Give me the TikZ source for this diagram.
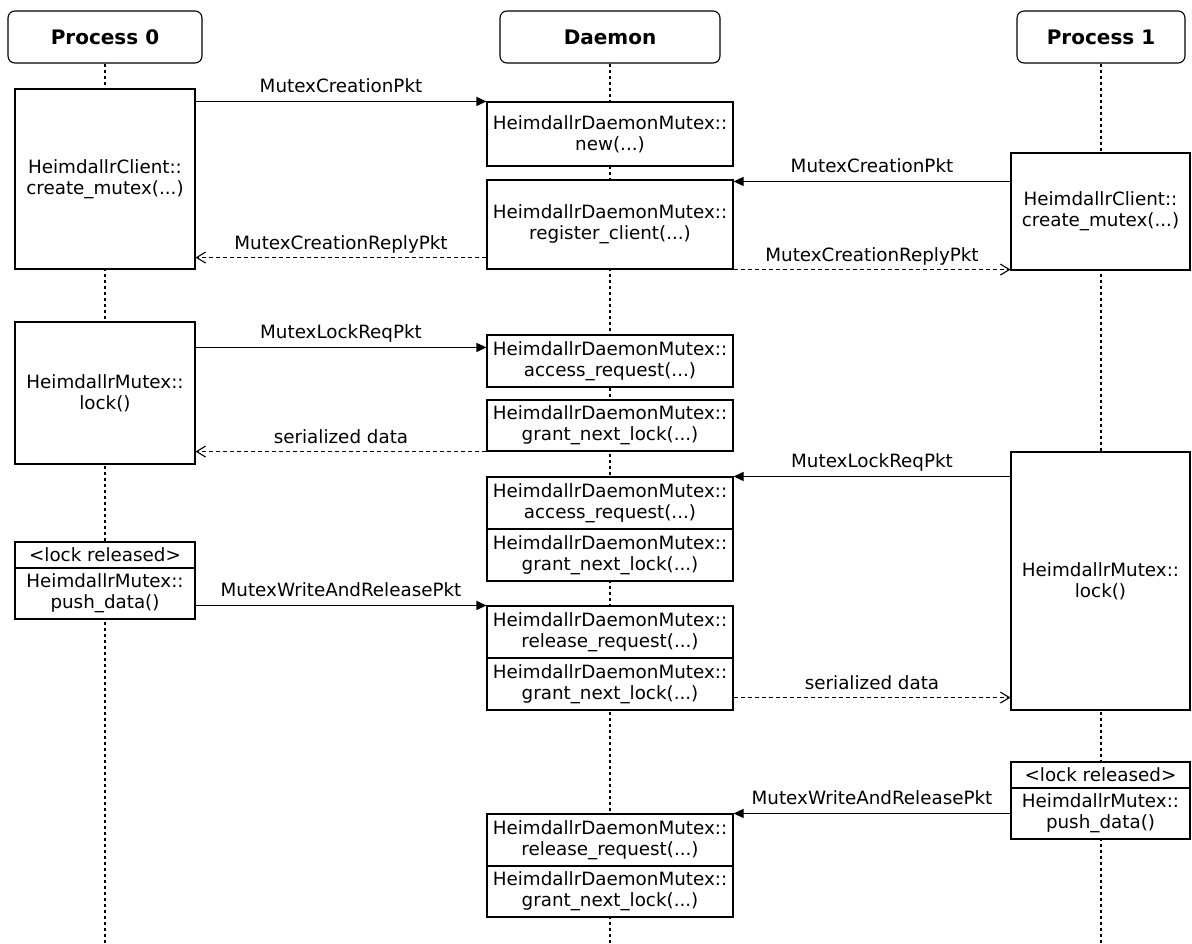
\documentclass[tikz,border=0pt]{standalone}
\usepackage{fontspec}
\setmainfont{DejaVu Sans}
\usetikzlibrary{arrows.meta,backgrounds,calc}
\begin{document}
\begin{tikzpicture}[x=1pt,y=-1pt,
  every node/.style={font=\fontsize{18.3}{21}\selectfont, align=center},
  box/.style={draw, line width=1.1pt, fill=white, inner sep=0pt},
  head/.style={box, rounded corners=7pt, font=\fontsize{20}{24}\selectfont\bfseries},
  life/.style={line width=1.1pt, dash pattern=on 3pt off 3pt},
  msg/.style={line width=1.1pt, -{Triangle[length=10pt,width=9pt]}},
  rep/.style={line width=1.1pt, dash pattern=on 4pt off 3pt, -{Straight Barb[length=9pt,width=11pt]}},
  lbl/.style={midway, above, inner sep=4pt, text depth=4pt}
]
\useasboundingbox (0,0) rectangle (1192,943);

% headers
\node[head, minimum width=194pt, minimum height=52pt] (h0) at (105,37) {Process 0};
\node[head, minimum width=220pt, minimum height=52pt] (h1) at (610,37) {Daemon};
\node[head, minimum width=168pt, minimum height=52pt] (h2) at (1101,37) {Process 1};
\coordinate (e0) at (105,943);
\coordinate (e1) at (610,943);
\coordinate (e2) at (1101,943);

% Process 0 boxes
\node[box, minimum width=180pt, minimum height=180pt] (c0) at (105,179) {HeimdallrClient::\\create\_mutex(...)};
\node[box, minimum width=180pt, minimum height=142pt] (l0) at (105,393) {HeimdallrMutex::\\lock()};
\node[box, minimum width=180pt, minimum height=26pt] (rel0) at (105,555) {<lock released>};
\node[box, minimum width=180pt, minimum height=51pt] (push0) at (105,593.5) {HeimdallrMutex::\\push\_data()};

% Daemon boxes
\node[box, minimum width=246pt, minimum height=64pt] (dnew) at (610,134) {HeimdallrDaemonMutex::\\new(...)};
\node[box, minimum width=246pt, minimum height=89pt] (dreg) at (610,224.5) {HeimdallrDaemonMutex::\\register\_client(...)};
\node[box, minimum width=246pt, minimum height=52pt] (dacc1) at (610,361) {HeimdallrDaemonMutex::\\access\_request(...)};
\node[box, minimum width=246pt, minimum height=51pt] (dgr1) at (610,425.5) {HeimdallrDaemonMutex::\\grant\_next\_lock(...)};
\node[box, minimum width=246pt, minimum height=52pt] (dacc2) at (610,503) {HeimdallrDaemonMutex::\\access\_request(...)};
\node[box, minimum width=246pt, minimum height=52pt] (dgr2) at (610,555) {HeimdallrDaemonMutex::\\grant\_next\_lock(...)};
\node[box, minimum width=246pt, minimum height=52pt] (drel1) at (610,632) {HeimdallrDaemonMutex::\\release\_request(...)};
\node[box, minimum width=246pt, minimum height=52pt] (dgr3) at (610,684) {HeimdallrDaemonMutex::\\grant\_next\_lock(...)};
\node[box, minimum width=246pt, minimum height=52pt] (drel2) at (610,840) {HeimdallrDaemonMutex::\\release\_request(...)};
\node[box, minimum width=246pt, minimum height=51pt] (dgr4) at (610,891.5) {HeimdallrDaemonMutex::\\grant\_next\_lock(...)};

% Process 1 boxes
\node[box, minimum width=179pt, minimum height=117pt] (c1) at (1100.5,211.5) {HeimdallrClient::\\create\_mutex(...)};
\node[box, minimum width=179pt, minimum height=258pt] (l1) at (1100.5,581) {HeimdallrMutex::\\lock()};
\node[box, minimum width=179pt, minimum height=26pt] (rel1) at (1100.5,775) {<lock released>};
\node[box, minimum width=179pt, minimum height=51pt] (push1) at (1100.5,813.5) {HeimdallrMutex::\\push\_data()};

% lifelines behind
\begin{scope}[on background layer]
\fill[white] (0,0) rectangle (1192,943);
\draw[life] (h0.south) -- (e0);
\draw[life] (h1.south) -- (e1);
\draw[life] (h2.south) -- (e2);
\end{scope}

% messages
\draw[msg] (dnew.north west -| c0.east) -- (dnew.north west) node[lbl]{MutexCreationPkt};
\coordinate (t2) at ([yshift=-2pt]dreg.north east);
\draw[msg] (t2 -| c1.west) -- (t2) node[lbl]{MutexCreationPkt};
\coordinate (t3) at ([yshift=12pt]dreg.south west);
\draw[rep] (t3) -- (t3 -| c0.east) node[lbl]{MutexCreationReplyPkt};
\draw[rep] (dreg.south east) -- (dreg.south east -| c1.west) node[lbl]{MutexCreationReplyPkt};
\coordinate (t5) at ([yshift=-13pt]dacc1.north west);
\draw[msg] (t5 -| l0.east) -- (t5) node[lbl]{MutexLockReqPkt};
\draw[rep] (dgr1.south west) -- (dgr1.south west -| l0.east) node[lbl]{serialized data};
\draw[msg] (dacc2.north east -| l1.west) -- (dacc2.north east) node[lbl]{MutexLockReqPkt};
\draw[msg] (drel1.north west -| push0.east) -- (drel1.north west) node[lbl]{MutexWriteAndReleasePkt};
\coordinate (t9) at ([yshift=13pt]dgr3.south east);
\draw[rep] (t9) -- (t9 -| l1.west) node[lbl]{serialized data};
\draw[msg] (drel2.north east -| push1.west) -- (drel2.north east) node[lbl]{MutexWriteAndReleasePkt};
\end{tikzpicture}
\end{document}
